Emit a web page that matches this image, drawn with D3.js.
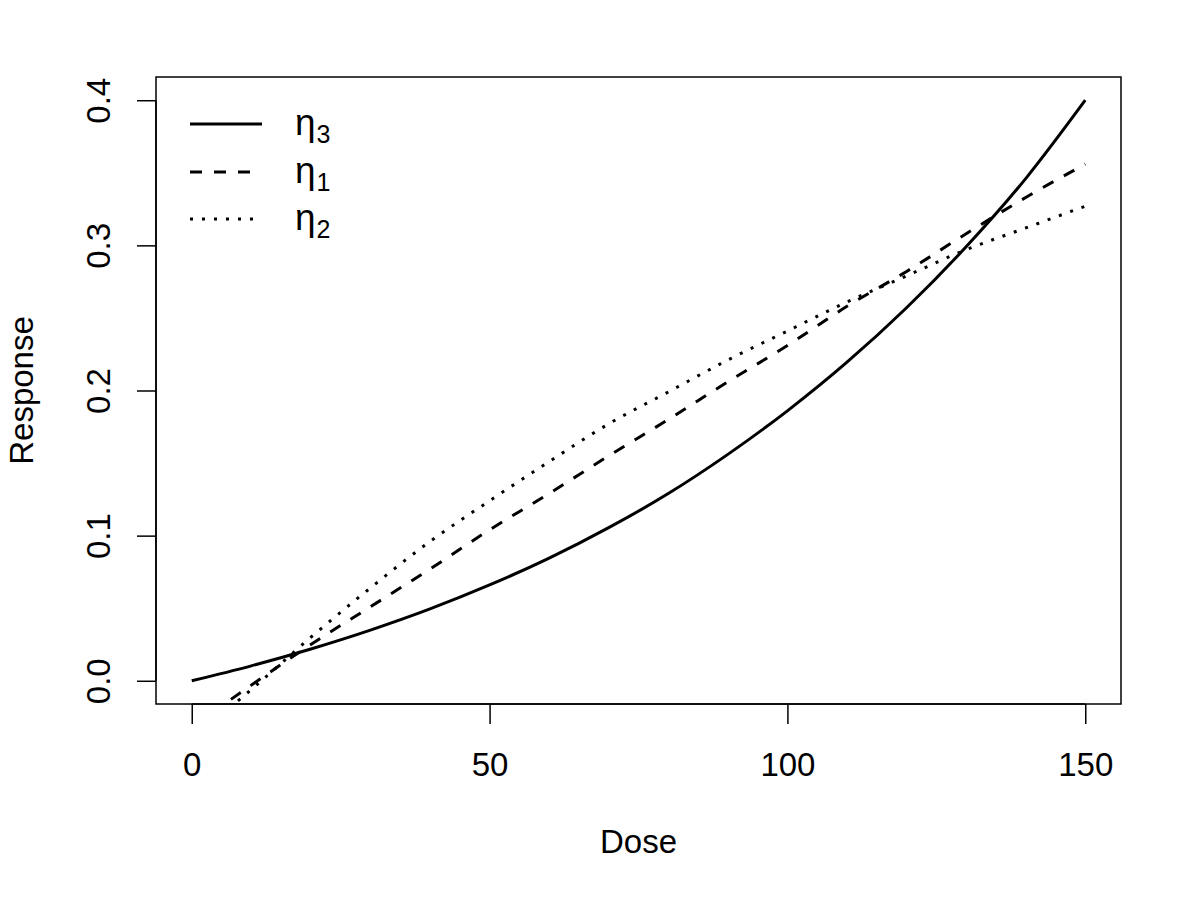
<!DOCTYPE html>
<html>
<head>
<meta charset="utf-8">
<style>
  body { margin: 0; background: #fff; }
  text { font-family: "Liberation Sans", Arial, Helvetica, sans-serif; fill: #000; }
</style>
</head>
<body>
<svg id="chart" width="1200" height="900"></svg>
<script src="https://d3js.org/d3.v7.min.js"></script>
<script>
// values, every 10 dose units
var dose = [0, 10, 20, 30, 40, 50, 60, 70, 80, 90, 100, 110, 120, 130, 140, 150];
var eta3 = [0, 0.0103, 0.0219, 0.0349, 0.0495, 0.066, 0.0845, 0.1055, 0.129, 0.156, 0.186, 0.2195, 0.257, 0.299, 0.346, 0.400];
var eta1 = [-0.032, -0.003, 0.025, 0.051, 0.077, 0.104, 0.129, 0.155, 0.180, 0.206, 0.231, 0.258, 0.282, 0.308, 0.333, 0.356];
var eta2 = [-0.040, -0.006, 0.030, 0.064, 0.096, 0.124, 0.151, 0.177, 0.199, 0.221, 0.241, 0.261, 0.279, 0.297, 0.312, 0.327];

var xTicks = [0, 50, 100, 150];
var yTicks = [0, 0.1, 0.2, 0.3, 0.4];

var series = [
  { name: "3", values: eta3, dash: null },
  { name: "1", values: eta1, dash: "12,12" },
  { name: "2", values: eta2, dash: "3,9" }
];

var plotLeft = 156, plotRight = 1121, plotTop = 77, plotBottom = 704;
var fontPx = "33px";

var svg = d3.select("#chart");

var x = d3.scaleLinear().domain([-6, 156]).range([plotLeft, plotRight]);
var y = d3.scaleLinear().domain([-0.016, 0.416]).range([plotBottom, plotTop]);

svg.append("clipPath").attr("id", "plotclip")
  .append("rect")
  .attr("x", plotLeft).attr("y", plotTop)
  .attr("width", plotRight - plotLeft).attr("height", plotBottom - plotTop);

// curves
var line = d3.line()
  .x(function(d) { return x(d[0]); })
  .y(function(d) { return y(d[1]); })
  .curve(d3.curveMonotoneX);

series.forEach(function(s) {
  var pts = dose.map(function(d, i) { return [d, s.values[i]]; });
  svg.append("path")
    .attr("clip-path", "url(#plotclip)")
    .attr("d", line(pts))
    .attr("fill", "none")
    .attr("stroke", "#000")
    .attr("stroke-width", 3)
    .attr("stroke-linecap", "butt")
    .attr("stroke-dasharray", s.dash);
});

// box
svg.append("rect")
  .attr("x", plotLeft).attr("y", plotTop)
  .attr("width", plotRight - plotLeft).attr("height", plotBottom - plotTop)
  .attr("fill", "none").attr("stroke", "#000").attr("stroke-width", 1.5);

// x axis
var xAxis = d3.axisBottom(x).tickValues(xTicks).tickSize(20).tickPadding(0).tickFormat(d3.format("d"));
var gx = svg.append("g").attr("transform", "translate(0," + plotBottom + ")").call(xAxis);
gx.select(".domain").attr("d", "M" + x(0) + ",0H" + x(150)).attr("stroke-width", 1.5);
gx.selectAll(".tick line").attr("stroke-width", 1.5);
gx.selectAll(".tick text")
  .attr("y", 72).attr("dy", null)
  .style("font-size", fontPx)
  .style("font-family", "Liberation Sans, Arial, sans-serif");

// y axis
var yAxis = d3.axisLeft(y).tickValues(yTicks).tickSize(19).tickFormat(d3.format(".1f"));
var gy = svg.append("g").attr("transform", "translate(" + plotLeft + ",0)").call(yAxis);
gy.select(".domain").attr("d", "M0," + y(0) + "V" + y(0.4)).attr("stroke-width", 1.5);
gy.selectAll(".tick line").attr("stroke-width", 1.5);
gy.selectAll(".tick text")
  .attr("x", null).attr("dy", null)
  .attr("text-anchor", "middle")
  .attr("transform", "translate(-46,0) rotate(-90)")
  .style("font-size", fontPx)
  .style("font-family", "Liberation Sans, Arial, sans-serif");

// axis titles
svg.append("text")
  .attr("x", (plotLeft + plotRight) / 2).attr("y", 853)
  .attr("text-anchor", "middle")
  .style("font-size", fontPx)
  .text("Dose");

svg.append("text")
  .attr("transform", "translate(33," + (plotTop + plotBottom) / 2 + ") rotate(-90)")
  .attr("text-anchor", "middle")
  .style("font-size", fontPx)
  .text("Response");

// legend
var legendY = [124, 172, 219];
series.forEach(function(s, i) {
  svg.append("line")
    .attr("x1", 190).attr("x2", 262)
    .attr("y1", legendY[i]).attr("y2", legendY[i])
    .attr("stroke", "#000").attr("stroke-width", 3)
    .attr("stroke-dasharray", s.dash);
  var t = svg.append("text")
    .attr("x", 295).attr("y", legendY[i] + 11)
    .style("font-size", "37px");
  t.append("tspan").text("\u03b7");
  t.append("tspan").attr("dy", 8).attr("dx", 1).style("font-size", "25px").text(s.name);
});
</script>
</body>
</html>
